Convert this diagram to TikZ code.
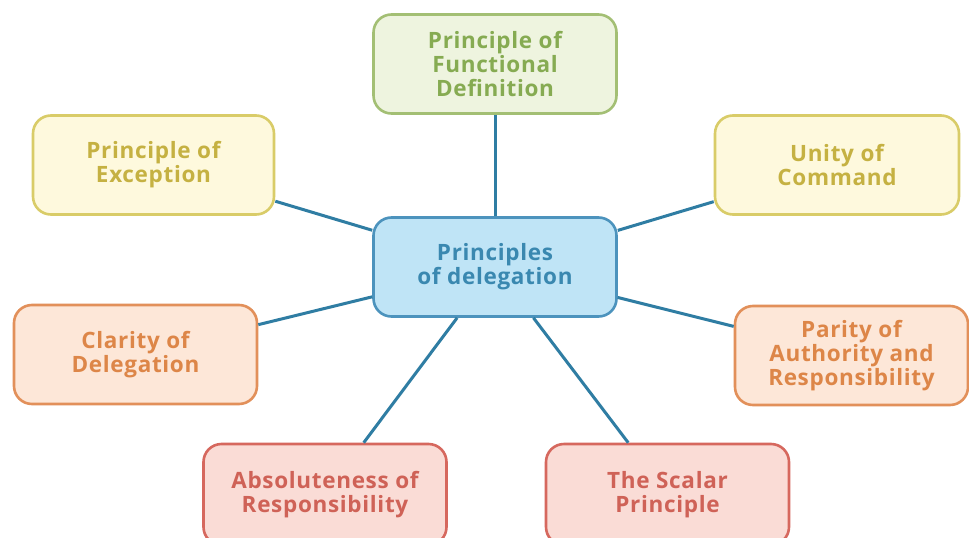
\documentclass[tikz,border=0pt]{standalone}
\usepackage{fontspec}
\setmainfont{Open Sans}[LetterSpace=3]
\begin{document}
\definecolor{linkc}{HTML}{2F7DA3}
\definecolor{gfill}{HTML}{EEF4DF}\definecolor{gdraw}{HTML}{A3BF74}\definecolor{gtext}{HTML}{86AB52}
\definecolor{yfill}{HTML}{FEF9DD}\definecolor{ydraw}{HTML}{D9CC68}\definecolor{ytext}{HTML}{C5B142}
\definecolor{ofill}{HTML}{FDE7D8}\definecolor{odraw}{HTML}{E2905A}\definecolor{otext}{HTML}{DD8648}
\definecolor{rfill}{HTML}{FADCD6}\definecolor{rdraw}{HTML}{D6685E}\definecolor{rtext}{HTML}{CF6257}
\definecolor{bfill}{HTML}{BFE4F6}\definecolor{bdraw}{HTML}{4C93BD}\definecolor{btext}{HTML}{3A88B0}
\begin{tikzpicture}[x=1pt,y=-1pt,
  box/.style={rounded corners=18pt, line width=2.6pt, minimum height=99pt,
    minimum width=243pt, align=center, inner sep=0pt,
    font=\fontsize{22.5}{24}\selectfont\bfseries},
  gbox/.style={box, fill=gfill, draw=gdraw, text=gtext},
  ybox/.style={box, fill=yfill, draw=ydraw, text=ytext},
  obox/.style={box, fill=ofill, draw=odraw, text=otext},
  rbox/.style={box, fill=rfill, draw=rdraw, text=rtext},
  bbox/.style={box, fill=bfill, draw=bdraw, text=btext},
  link/.style={draw=linkc, line width=3pt}]
\fill[white] (0,0) rectangle (969,538);
\useasboundingbox (0,0) rectangle (969,538);
\node[bbox] (c) at (495,267) {Principles\\of delegation};
\node[gbox] (t) at (495,64) {Principle of\\Functional\\Definition};
\node[ybox, minimum width=241pt] (tl) at (153.5,165) {Principle of\\Exception};
\node[ybox, minimum width=244pt] (tr) at (837,165) {Unity of\\Command};
\node[obox] (ml) at (135.5,354.5) {Clarity of\\Delegation};
\node[obox, minimum width=233pt] (mr) at (851.5,355.5) {Parity of\\Authority and\\Responsibility};
\node[rbox, minimum height=101pt] (bl) at (325,494.5) {Absoluteness of\\Responsibility};
\node[rbox, minimum height=101pt] (br) at (667.5,494.5) {The Scalar\\Principle};
\foreach \n in {t,tl,tr,ml,mr,bl,br}
  \draw[link] (c) -- (\n);
\end{tikzpicture}
\end{document}
